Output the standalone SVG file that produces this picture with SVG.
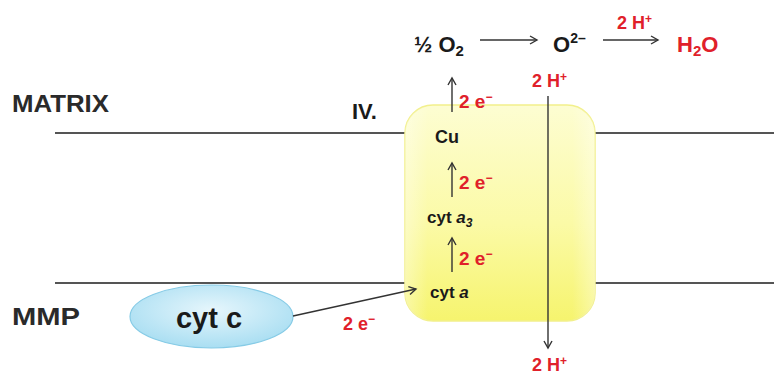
<svg xmlns="http://www.w3.org/2000/svg" width="774" height="374" viewBox="0 0 774 374">
  <style>
    text { font-family: "Liberation Sans", Arial, sans-serif; font-weight: bold; fill: #1a1a1a; }
    .red { fill: #e0202a; }
    .lbl { font-size: 23px; fill: #2a2a2a; }
    .e { font-size: 19px; }
    .mem { stroke: #555; stroke-width: 2; fill: none; }
    .arr { stroke: #333; stroke-width: 1.4; fill: none; }
  </style>
  <defs>
    <marker id="head" markerWidth="10" markerHeight="10" refX="8" refY="5" orient="auto" markerUnits="userSpaceOnUse">
      <path d="M1,1 L8,5 L1,9" fill="none" stroke="#333" stroke-width="1.4"/>
    </marker>
    <linearGradient id="boxFill" x1="0" y1="0" x2="0" y2="1">
      <stop offset="0%" stop-color="#fdfdd2"/>
      <stop offset="55%" stop-color="#fbfaa6"/>
      <stop offset="100%" stop-color="#f6f46e"/>
    </linearGradient>
    <linearGradient id="boxSheen" x1="0" y1="0" x2="1" y2="0">
      <stop offset="0%" stop-color="#ffffff" stop-opacity="0.35"/>
      <stop offset="12%" stop-color="#ffffff" stop-opacity="0"/>
      <stop offset="88%" stop-color="#ffffff" stop-opacity="0"/>
      <stop offset="100%" stop-color="#ffffff" stop-opacity="0.35"/>
    </linearGradient>
    <radialGradient id="cytcFill" cx="50%" cy="40%" r="60%">
      <stop offset="0%" stop-color="#e6f6fc"/>
      <stop offset="100%" stop-color="#a9def2"/>
    </radialGradient>
  </defs>

  <!-- membrane lines -->
  <g id="membranes">
    <line class="mem" x1="55" y1="133" x2="410" y2="133"/>
    <line class="mem" x1="590" y1="133" x2="774" y2="133"/>
    <line class="mem" x1="55" y1="283" x2="410" y2="283"/>
    <line class="mem" x1="590" y1="283" x2="774" y2="283"/>
  </g>

  <text class="lbl" x="12" y="112" textLength="97" lengthAdjust="spacingAndGlyphs">MATRIX</text>
  <text class="lbl" x="12" y="325" textLength="68" lengthAdjust="spacingAndGlyphs">MMP</text>
  <text x="352" y="119" font-size="22">IV.</text>

  <!-- complex IV -->
  <g id="complex-iv">
    <rect x="405" y="105" width="190" height="216" rx="28" fill="url(#boxFill)" stroke="#f2f08c" stroke-width="1.5"/>
    <rect x="405" y="105" width="190" height="216" rx="28" fill="url(#boxSheen)"/>
    <text x="435" y="143" font-size="18">Cu</text>
    <text x="427" y="223" font-size="17">cyt <tspan font-style="italic">a</tspan><tspan font-style="italic" font-size="12" dy="4">3</tspan></text>
    <text x="430" y="298" font-size="17">cyt <tspan font-style="italic">a</tspan></text>
  </g>

  <!-- cytochrome c -->
  <g id="cyt-c">
    <ellipse cx="211.5" cy="316.5" rx="81.5" ry="31.5" fill="url(#cytcFill)" stroke="#86cbe6" stroke-width="1.2"/>
    <text x="209" y="328" font-size="29" text-anchor="middle">cyt c</text>
  </g>

  <!-- oxygen reduction -->
  <g id="reaction">
    <text x="414" y="52" font-size="22">½ O<tspan font-size="15" dy="4">2</tspan></text>
    <text x="553" y="52" font-size="22">O<tspan font-size="14" dy="-9">2–</tspan></text>
    <text class="red" x="617" y="29" font-size="18">2 H<tspan font-size="12" dy="-6">+</tspan></text>
    <text class="red" x="677" y="52" font-size="22">H<tspan font-size="15" dy="4">2</tspan><tspan dy="-4">O</tspan></text>
  </g>

  <!-- connectors -->
  <g id="connectors">
    <line class="arr" x1="480" y1="40" x2="537" y2="40" marker-end="url(#head)"/>
    <line class="arr" x1="603" y1="40" x2="658" y2="40" marker-end="url(#head)"/>
    <line class="arr" x1="452" y1="112" x2="452" y2="78" marker-end="url(#head)"/>
    <line class="arr" x1="452" y1="197" x2="452" y2="163" marker-end="url(#head)"/>
    <line class="arr" x1="452" y1="272" x2="452" y2="238" marker-end="url(#head)"/>
    <line class="arr" x1="548" y1="96" x2="548" y2="348" marker-end="url(#head)"/>
    <line class="arr" x1="293" y1="316" x2="416" y2="289" marker-end="url(#head)"/>
  </g>

  <!-- electron and proton labels -->
  <g id="labels">
    <text class="red e" x="459" y="108">2 e<tspan font-size="12" dy="-7">−</tspan></text>
    <text class="red e" x="459" y="189">2 e<tspan font-size="12" dy="-7">−</tspan></text>
    <text class="red e" x="459" y="265">2 e<tspan font-size="12" dy="-7">−</tspan></text>
    <text class="red" x="343" y="330" font-size="18">2 e<tspan font-size="12" dy="-7">−</tspan></text>
    <text class="red" x="532" y="87" font-size="18">2 H<tspan font-size="12" dy="-6">+</tspan></text>
    <text class="red" x="532" y="371" font-size="18">2 H<tspan font-size="12" dy="-6">+</tspan></text>
  </g>
</svg>
